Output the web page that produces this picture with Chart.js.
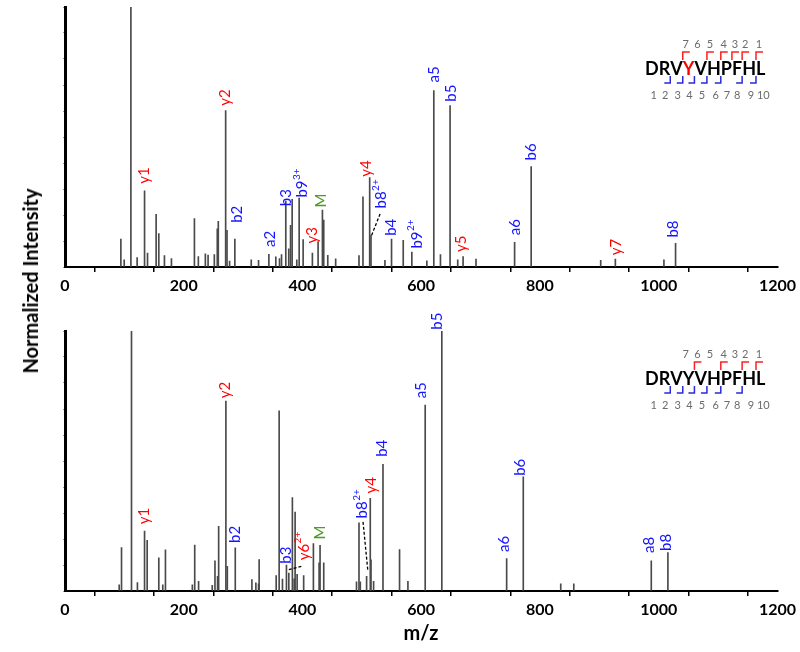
<!DOCTYPE html>
<html>
<head>
<meta charset="utf-8">
<script src="https://cdn.jsdelivr.net/npm/chart.js@4.4.0/dist/chart.umd.min.js"></script>
<style>
  body { margin:0; background:#fff; width:800px; height:652px; position:relative; overflow:hidden; font-family:Lato, 'Open Sans', sans-serif; }
  .panel { position:absolute; left:0; width:800px; }
  #wrapTop { top:0; height:295px; }
  #wrapBot { top:295px; height:357px; }
  .ytitle { position:absolute; left:30px; top:281px; transform:translate(-50%,-50%) rotate(-90deg); font:bold 20px Lato; white-space:nowrap; }
  .xtitle { position:absolute; left:421px; top:632px; transform:translate(-50%,-50%); font:bold 20px Lato; }
</style>
</head>
<body>
<div class="panel" id="wrapTop"><canvas id="topChart"></canvas></div>
<div class="panel" id="wrapBot"><canvas id="botChart"></canvas></div>
<div class="ytitle">Normalized Intensity</div>
<div class="xtitle">m/z</div>
<script>
/* ── DATA ─────────────────────────────────────────────────── */
const residues = ['D','R','V','Y','V','H','P','F','H','L'];
const xTicks   = [0, 200, 400, 600, 800, 1000, 1200];

// top spectrum
const topMz  = [94.1, 99.7, 111, 121.5, 134, 139, 153.5, 158, 167.5, 179.3, 218, 224.6, 236.4, 241, 251.5, 256.5, 258.2,
                270.6, 272.9, 277.2, 286.1, 313.7, 326, 343.4, 355.1, 361.3, 364.7, 371.9, 376.9, 379.9, 382.6, 390.4,
                394.4, 401.1, 416.7, 426.3, 433.6, 435.8, 442.6, 455.9, 495.2, 501.9, 513.2, 515.4, 538.9, 550, 569.7,
                584.2, 609.5, 621.2, 632.4, 648.6, 661.5, 670.5, 692.3, 757.3, 785.2, 902.3, 927, 1008.8, 1028.4];
const topInt = [10.7, 2.8, 100, 3.6, 29.3, 5.4, 20.3, 12.9, 4.4, 3.2, 18.6, 4, 5.1, 4.6, 4.8, 14.7, 17.6,
                60.2, 14.1, 2.3, 10.7, 2.8, 2.6, 4.9, 3.9, 3.2, 4.8, 25.4, 7, 16, 26, 2.8,
                26.5, 10.5, 5.4, 9.8, 21.9, 18, 4.5, 3.1, 4.4, 27, 34.4, 12.2, 2.6, 10.7, 10.3,
                5.7, 2.4, 67.9, 4.8, 62.1, 2.8, 4, 3, 9.5, 38.6, 2.6, 3, 2.8, 9.1];
// ion labels: [text, superscript, m/z, intensity at label base, type]
const topLabels = [
  ['y1', '', 134, 32, 'y'], ['y2', '', 270, 62, 'y'], ['b2', '', 289.5, 17, 'b'], ['a2', '', 346, 7.7, 'b'],
  ['b3', '', 372, 23.4, 'b'], ['b9', '3+', 400, 26.7, 'b'], ['y3', '', 416, 9, 'y'], ['M', '', 431, 22.9, 'M'],
  ['y4', '', 508, 34.7, 'y'], ['b8', '2+', 533, 22.5, 'b'], ['b4', '', 550, 12, 'b'], ['b9', '2+', 593, 7.1, 'b'],
  ['a5', '', 622, 71, 'b'], ['b5', '', 650, 63.6, 'b'], ['y5', '', 668, 5.8, 'y'], ['a6', '', 758, 12.2, 'b'],
  ['b6', '', 785, 41, 'b'], ['y7', '', 928, 4.5, 'y'], ['b8', '', 1024, 11.3, 'b'],
];
const topLeaders = [[516.5, 12.2, 531, 20.6]];
const topYCuts = [7, 5, 4, 3, 2, 1];
const topBCuts = [2, 3, 4, 5, 6, 8, 9];
const topRedResidue = 3;

// bottom spectrum
const botMz  = [91.3, 95.2, 112, 122, 134, 138.4, 158, 164.7, 169.2, 214.5, 218.5, 225, 248, 252.6, 257, 258.8, 271,
                273.4, 286.8, 314.8, 321.5, 326, 327, 355.7, 360.7, 366.3, 373, 377, 383, 386, 387.6, 391, 402,
                418.4, 428, 429.6, 435.8, 491, 495.2, 497.4, 508, 514.2, 515.4, 519.8, 535.6, 563.5, 577.6, 606.7,
                634.7, 743.9, 771.9, 835, 857, 987.5, 1015.5];
const botInt = [2.4, 16.7, 100, 3.2, 23, 19.5, 12.8, 2.4, 15.8, 2.4, 17.7, 3.7, 2.2, 11.6, 5.6, 24.9, 73,
                9.5, 16.6, 4.4, 3.1, 2.8, 12.1, 5.9, 69.3, 4.6, 10, 6.9, 35.9, 4.7, 30.4, 6.4, 5.9,
                18.2, 10.8, 17.6, 10.8, 3.5, 26.2, 3.5, 5.6, 35.6, 12, 3.7, 48.7, 15.9, 3.7, 71.5,
                100, 12.5, 43.9, 2.8, 2.8, 11.6, 14.8];
const botLabels = [
  ['y1', '', 133.3, 25.7, 'y'], ['y2', '', 270, 74.1, 'y'], ['b2', '', 286, 18.5, 'b'], ['b3', '', 372, 10.5, 'b'],
  ['y6', '2+', 403, 11.8, 'y'], ['M', '', 430, 19.8, 'M'], ['b8', '2+', 501, 27.9, 'b'], ['y4', '', 515, 37.5, 'y'],
  ['b4', '', 534, 51.6, 'b'], ['a5', '', 600.5, 74.1, 'b'], ['b5', '', 627, 100.5, 'b'], ['a6', '', 740.5, 15, 'b'],
  ['b6', '', 766, 44.3, 'b'], ['a8', '', 984, 14.6, 'b'], ['b8', '', 1012, 15.4, 'b'],
];
const botLeaders = [[502, 26.6, 510, 8], [377, 8.2, 398, 9.5]];
const botYCuts = [6, 4, 2, 1];
const botBCuts = [2, 3, 4, 5, 6, 8];
const botRedResidue = -1;

/* ── STYLE ────────────────────────────────────────────────── */
const ionColor = { b:'#1414ff', y:'#ff0000', M:'#4e9a28' };
const FONT = 'Lato, "Open Sans", sans-serif';

/* ── SEQUENCE INSET ───────────────────────────────────────── */
function drawSequence(ctx, x0, base, redRes, yCuts, bCuts) {
  ctx.save();
  ctx.font = 'bold 18px ' + FONT;
  ctx.textAlign = 'left';
  ctx.textBaseline = 'alphabetic';
  const edges = [x0];
  let x = x0;
  residues.forEach((r, i) => {
    ctx.fillStyle = i === redRes ? '#ff0000' : '#000';
    ctx.fillText(r, x, base);
    x += ctx.measureText(r).width;
    edges.push(x);
  });
  ctx.lineWidth = 1.5;
  ctx.strokeStyle = '#2a2ad8';
  bCuts.forEach(n => {
    const ex = edges[n];
    ctx.beginPath();
    ctx.moveTo(ex, base + 1); ctx.lineTo(ex, base + 8); ctx.lineTo(ex - 6, base + 8);
    ctx.stroke();
  });
  ctx.strokeStyle = '#ff2020';
  yCuts.forEach(n => {
    const ex = edges[residues.length - n];
    ctx.beginPath();
    ctx.moveTo(ex, base - 15); ctx.lineTo(ex, base - 23); ctx.lineTo(ex + 7, base - 23);
    ctx.stroke();
  });
  ctx.font = '11px ' + FONT;
  ctx.fillStyle = '#6b6b6b';
  ctx.textAlign = 'center';
  ctx.textBaseline = 'middle';
  for (let k = 7; k >= 1; k--) ctx.fillText(String(k), edges[residues.length - k] + 3, base - 31);
  for (let i = 1; i <= 10; i++) ctx.fillText(String(i), edges[i] - (i === 10 ? 2 : 5), base + 20);
  ctx.restore();
}

/* ── PANEL ────────────────────────────────────────────────── */
function makePanel(id, mz, inten, labels, leaders, inset, padTop, xHeight) {
  const annot = {
    id: 'annot',
    afterDatasetsDraw(chart) {
      const { ctx, scales: { x, y } } = chart;
      ctx.save();
      ctx.setLineDash([3, 2]);
      ctx.strokeStyle = '#000';
      ctx.lineWidth = 1.3;
      leaders.forEach(([m1, i1, m2, i2]) => {
        ctx.beginPath();
        ctx.moveTo(x.getPixelForValue(m1), y.getPixelForValue(i1));
        ctx.lineTo(x.getPixelForValue(m2), y.getPixelForValue(i2));
        ctx.stroke();
      });
      ctx.setLineDash([]);
      labels.forEach(([txt, sup, m, at, type]) => {
        ctx.save();
        ctx.translate(x.getPixelForValue(m), y.getPixelForValue(at));
        ctx.rotate(-Math.PI / 2);
        ctx.fillStyle = ionColor[type];
        ctx.textAlign = 'left';
        ctx.textBaseline = 'middle';
        ctx.font = '15px ' + FONT;
        ctx.fillText(txt, 0, 0);
        if (sup) {
          const w = ctx.measureText(txt).width;
          ctx.font = '10px ' + FONT;
          ctx.fillText(sup, w + 0.5, -6);
        }
        ctx.restore();
      });
      drawSequence(ctx, inset.x, inset.base, inset.red, inset.yCuts, inset.bCuts);
      ctx.restore();
    }
  };

  return new Chart(document.getElementById(id), {
    type: 'bar',
    data: {
      datasets: [{
        data: mz.map((m, i) => ({ x: m, y: inten[i] })),
        backgroundColor: '#4a4a4a',
        borderWidth: 0,
        barThickness: 1,
      }],
    },
    options: {
      responsive: true,
      maintainAspectRatio: false,
      animation: false,
      layout: { padding: { top: padTop, right: 21, left: 0, bottom: 0 } },
      plugins: { legend: { display: false }, tooltip: { enabled: false } },
      scales: {
        x: {
          type: 'linear', min: 0, max: 1200, offset: false,
          ticks: {
            stepSize: 100, autoSkip: false, maxRotation: 0, padding: 4,
            color: '#000', font: { family: FONT, size: 16, weight: 'bold' },
            callback: v => xTicks.includes(v) ? v : '',
          },
          grid: { drawOnChartArea: false, tickLength: 5, color: '#000', lineWidth: 1.5 },
          border: { color: '#000', width: 2 },
          afterFit: s => { s.height = xHeight; },
        },
        y: {
          min: 0, max: 100,
          ticks: { display: false, stepSize: 10 },
          grid: { drawOnChartArea: false, tickLength: 2, color: '#999' },
          border: { color: '#000', width: 3 },
          afterFit: s => { s.width = 65; },
        },
      },
    },
    plugins: [annot],
  });
}

makePanel('topChart', topMz, topInt, topLabels, topLeaders,
  { x: 645, base: 75, red: topRedResidue, yCuts: topYCuts, bCuts: topBCuts }, 7, 28);
makePanel('botChart', botMz, botInt, botLabels, botLeaders,
  { x: 645, base: 90, red: botRedResidue, yCuts: botYCuts, bCuts: botBCuts }, 36, 61);
</script>
</body>
</html>
